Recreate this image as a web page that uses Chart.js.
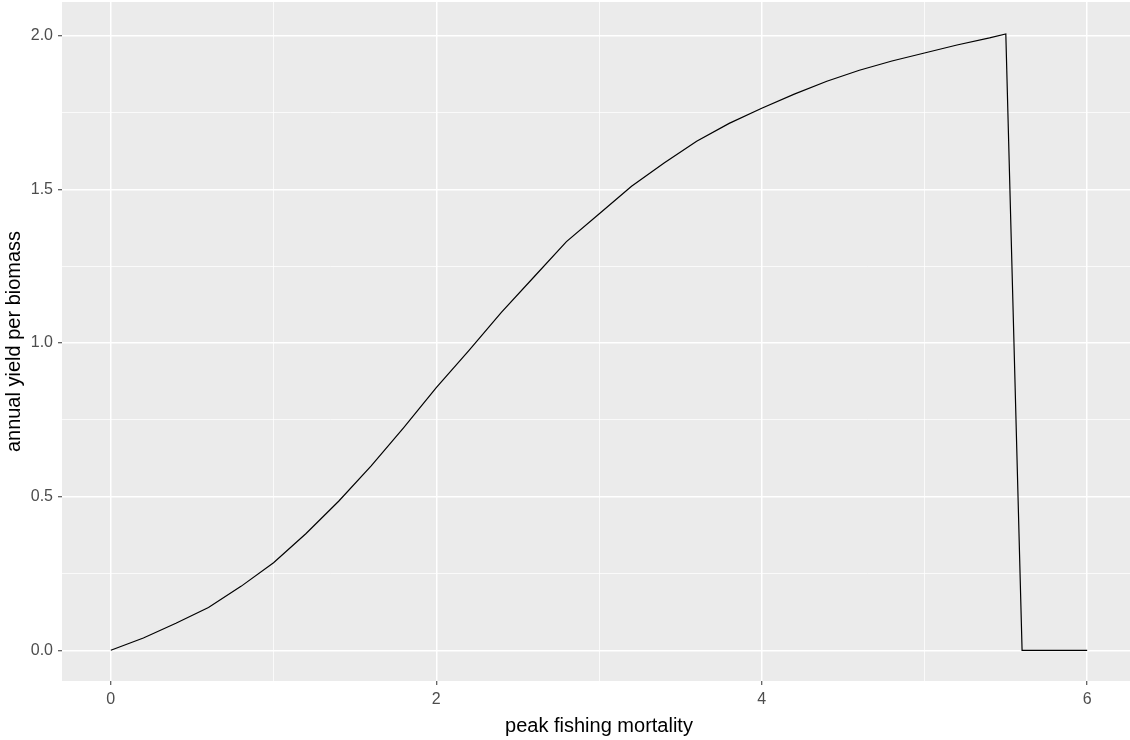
<!DOCTYPE html>
<html>
<head>
<meta charset="utf-8">
<title>annual yield per biomass</title>
<script src="https://cdn.jsdelivr.net/npm/chart.js@4/dist/chart.umd.min.js"></script>
<style>
    body { margin: 0; background: #fff; overflow: hidden; }
    #chart { display: block; }
</style>
</head>
<body>
<canvas id="chart" width="1136" height="740"></canvas>
<script>
// --- Data ---
const fishingMortality = [0, 0.2, 0.4, 0.6, 0.8, 1.0, 1.2, 1.4, 1.6, 1.8, 2.0, 2.2, 2.4, 2.6, 2.8,
    3.0, 3.2, 3.4, 3.6, 3.8, 4.0, 4.2, 4.4, 4.6, 4.8, 5.0, 5.2, 5.4, 5.5, 5.6, 6.0];
const yieldPerBiomass = [0, 0.04, 0.088, 0.139, 0.208, 0.285, 0.38, 0.485, 0.60, 0.725, 0.855, 0.975, 1.10, 1.215, 1.33,
    1.42, 1.51, 1.586, 1.657, 1.715, 1.764, 1.81, 1.852, 1.888, 1.918, 1.944, 1.970, 1.993, 2.006, 0, 0];

const xGrid = [0, 1, 2, 3, 4, 5, 6];          // major + minor
const xLabels = [0, 2, 4, 6];
const yGrid = [0, 0.25, 0.5, 0.75, 1.0, 1.25, 1.5, 1.75, 2.0];
const yLabels = [0, 0.5, 1.0, 1.5, 2.0];

const isMajor = (list, v) => list.some(t => Math.abs(t - v) < 1e-9);

// grey ggplot panel behind the grid
const panelBg = {
    id: 'panelBg',
    beforeDraw(chart) {
        const { ctx, chartArea: a } = chart;
        ctx.save();
        ctx.fillStyle = '#EBEBEB';
        ctx.fillRect(a.left, a.top, a.right - a.left, a.bottom - a.top);
        ctx.restore();
    }
};

const tickFont = { family: '"Liberation Sans", Arial, sans-serif', size: 16 };
const titleFont = { family: '"Liberation Sans", Arial, sans-serif', size: 20 };

new Chart(document.getElementById('chart'), {
    type: 'line',
    data: {
        datasets: [{
            data: fishingMortality.map((x, i) => ({ x: x, y: yieldPerBiomass[i] })),
            borderColor: '#000',
            borderWidth: 1.2,
            pointRadius: 0,
            tension: 0,
            fill: false
        }]
    },
    options: {
        responsive: false,
        animation: false,
        layout: { autoPadding: false, padding: { top: 2, right: 0, left: 0, bottom: 0 } },
        plugins: {
            legend: { display: false },
            tooltip: { enabled: false }
        },
        scales: {
            x: {
                type: 'linear',
                min: -0.3,
                max: 6.3,
                afterBuildTicks: s => { s.ticks = xGrid.map(v => ({ value: v })); },
                afterFit: s => { s.height = 59; s.paddingLeft = 0; s.paddingRight = 0; },
                border: { display: false },
                grid: {
                    color: '#fff',
                    lineWidth: c => isMajor(xLabels, c.tick.value) ? 1.5 : 0.75,
                    tickColor: c => isMajor(xLabels, c.tick.value) ? '#333' : 'rgba(0,0,0,0)',
                    tickWidth: 1,
                    tickLength: 4
                },
                ticks: {
                    color: '#4D4D4D',
                    font: tickFont,
                    padding: 5,
                    maxRotation: 0,
                    autoSkip: false,
                    callback: v => isMajor(xLabels, v) ? String(v) : ''
                },
                title: {
                    display: true,
                    text: 'peak fishing mortality',
                    color: '#000',
                    font: titleFont,
                    padding: { top: 0, bottom: 2 }
                }
            },
            y: {
                type: 'linear',
                min: -0.1,
                max: 2.11,
                afterBuildTicks: s => { s.ticks = yGrid.map(v => ({ value: v })); },
                afterFit: s => { s.width = 62; s.paddingTop = 0; s.paddingBottom = 0; },
                border: { display: false },
                grid: {
                    color: '#fff',
                    lineWidth: c => isMajor(yLabels, c.tick.value) ? 1.5 : 0.75,
                    tickColor: c => isMajor(yLabels, c.tick.value) ? '#333' : 'rgba(0,0,0,0)',
                    tickWidth: 1,
                    tickLength: 4
                },
                ticks: {
                    color: '#4D4D4D',
                    font: tickFont,
                    padding: 5,
                    autoSkip: false,
                    callback: v => isMajor(yLabels, v) ? v.toFixed(1) : ''
                },
                title: {
                    display: true,
                    text: 'annual yield per biomass',
                    color: '#000',
                    font: titleFont,
                    padding: { top: 2, bottom: 0 }
                }
            }
        }
    },
    plugins: [panelBg]
});
</script>
</body>
</html>
